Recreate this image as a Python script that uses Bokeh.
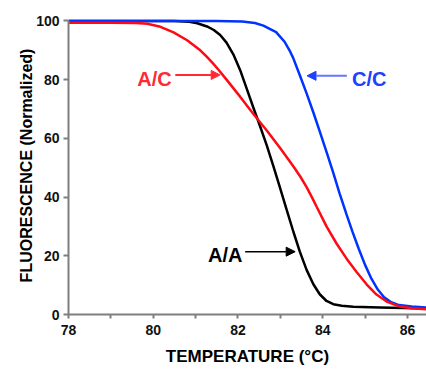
from bokeh.plotting import figure
from bokeh.models import FixedTicker, Arrow, NormalHead, Label
from bokeh.embed import file_html
from bokeh.resources import INLINE

# Data
cc_x = [78, 79, 80, 81, 81.5, 82.1, 82.4, 82.6, 82.9, 83.1, 83.23, 83.3, 83.46, 83.62, 83.78,
        83.93, 84.09, 84.25, 84.4, 84.56, 84.7, 84.85, 85.0, 85.15, 85.3, 85.45, 85.6,
        85.8, 86.1, 86.45]
cc_y = [100, 100, 100, 100, 100, 99.8, 99.3, 98.4, 96.2, 92.9, 89.6, 87.5, 81.5, 75.3, 68.8,
        62.4, 55.4, 48.2, 41.2, 34.2, 28.3, 22.4, 16.9, 12.2, 8.5, 5.9, 4.3,
        3.2, 2.7, 2.4]

aa_x = [78, 79, 80, 80.5, 80.85, 81.04, 81.27, 81.43, 81.58, 81.73, 81.89, 82.05, 82.2,
        82.36, 82.52, 82.68, 82.83, 82.97, 83.15, 83.31, 83.46, 83.62, 83.78, 83.93,
        84.09, 84.25, 84.45, 84.72, 85.35, 86.45]
aa_y = [100, 100, 100, 100, 99.7, 99.2, 98.1, 96.9, 95.2, 92.6, 88.6, 83.3, 77.2,
        70.6, 64.2, 57.6, 50.8, 44.2, 35.6, 28.1, 21.4, 15.2, 10.3, 6.9,
        4.6, 3.5, 3.0, 2.6, 2.4, 2]

ac_x = [78, 79, 79.6, 79.86, 80.17, 80.48, 80.8, 81.11, 81.25, 81.4, 81.55, 81.73, 82.05,
        82.36, 82.68, 82.99, 83.31, 83.47, 83.62, 83.75, 83.86, 84.09, 84.33, 84.56,
        84.8, 85.04, 85.27, 85.51, 85.82, 86.1, 86.45]
ac_y = [99.4, 99.4, 99.3, 99.0, 98.0, 96.1, 93.4, 90.0, 88.0, 85.7, 83.2, 80.0, 74.2,
        68.4, 62.7, 56.8, 50.4, 47.0, 43.4, 39.8, 36.6, 30.0, 24.1, 19.1,
        14.5, 10.2, 6.8, 4.4, 2.7, 2.1, 1.8]

x_ticks = [78, 80, 82, 84, 86]
x_minor = [79, 81, 83, 85]
y_ticks = [0, 20, 40, 60, 80, 100]

FONT = "Liberation Sans"
AXIS_GREY = "#7f7f7f"

p = figure(width=426, height=376, x_range=(78, 86.45), y_range=(0, 101.5),
           output_backend="svg", toolbar_location=None,
           min_border_left=68, min_border_right=0, min_border_top=16, min_border_bottom=62)
p.outline_line_color = None
p.xgrid.visible = False
p.ygrid.visible = False
p.background_fill_color = "white"
p.border_fill_color = "white"

p.line(aa_x, aa_y, line_color="#000000", line_width=2.5)
p.line(cc_x, cc_y, line_color="#0033ff", line_width=2.5)
p.line(ac_x, ac_y, line_color="#ff0a14", line_width=2.5)

for ax in (p.xaxis[0], p.yaxis[0]):
    ax.axis_line_color = AXIS_GREY
    ax.axis_line_width = 2
    ax.major_tick_line_color = AXIS_GREY
    ax.major_tick_line_width = 2
    ax.minor_tick_line_color = AXIS_GREY
    ax.minor_tick_line_width = 2
    ax.major_tick_in = 0
    ax.minor_tick_in = 0
    ax.major_label_text_font = FONT
    ax.major_label_text_font_style = "bold"
    ax.major_label_text_font_size = "14px"
    ax.major_label_text_color = "#111111"
    ax.axis_label_text_font = FONT
    ax.axis_label_text_font_style = "bold"
    ax.axis_label_text_color = "#000000"

p.xaxis.ticker = FixedTicker(ticks=x_ticks, minor_ticks=x_minor)
p.yaxis.ticker = FixedTicker(ticks=y_ticks, minor_ticks=[])
p.yaxis.bounds = (0, 100)
p.xaxis.major_tick_out = 4
p.xaxis.minor_tick_out = 4
p.yaxis.major_tick_out = 5
p.yaxis.minor_tick_out = 0
p.xaxis.major_label_standoff = 6
p.yaxis.major_label_standoff = 4
p.xaxis.axis_label = "TEMPERATURE (°C)"
p.yaxis.axis_label = "FLUORESCENCE (Normalized)"
p.xaxis.axis_label_text_font_size = "17px"
p.yaxis.axis_label_text_font_size = "16px"
p.xaxis.axis_label_standoff = 9
p.yaxis.axis_label_standoff = -2

# Annotations
p.add_layout(Label(x=80.03, y=80.2, text="A/C", text_align="center", text_baseline="middle",
                   text_font=FONT, text_font_style="bold", text_font_size="20px",
                   text_color="#ff2a34"))
p.add_layout(Arrow(x_start=80.52, y_start=81.6, x_end=81.58, y_end=81.6,
                   line_color="#ff2a34", line_width=2,
                   end=NormalHead(size=9, fill_color="#ff2a34", line_color="#ff2a34")))

p.add_layout(Label(x=85.1, y=80.2, text="C/C", text_align="center", text_baseline="middle",
                   text_font=FONT, text_font_style="bold", text_font_size="20px",
                   text_color="#2040ff"))
p.add_layout(Arrow(x_start=84.57, y_start=81.3, x_end=83.63, y_end=81.3,
                   line_color="#6676ff", line_width=2,
                   end=NormalHead(size=9, fill_color="#2040ff", line_color="#2040ff")))

p.add_layout(Label(x=81.7, y=20.1, text="A/A", text_align="center", text_baseline="middle",
                   text_font=FONT, text_font_style="bold", text_font_size="20px",
                   text_color="#000000"))
p.add_layout(Arrow(x_start=82.17, y_start=21.4, x_end=83.35, y_end=21.4,
                   line_color="#000000", line_width=1.5,
                   end=NormalHead(size=9, fill_color="#000000", line_color="#000000")))

open("out.html", "w").write(file_html(p, INLINE))
